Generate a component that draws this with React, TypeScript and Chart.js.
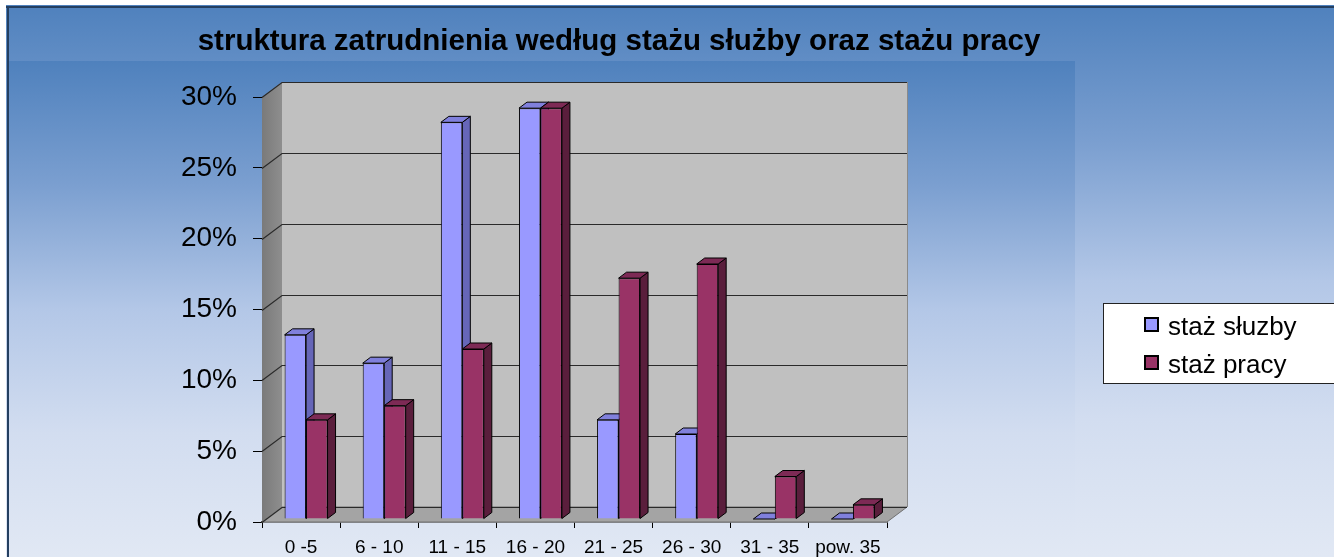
import React, { useEffect, useRef } from "react";
import { Chart, registerables } from "chart.js";

Chart.register(...registerables);

// ---------- data ----------
const categories = ["0 -5", "6 - 10", "11 - 15", "16 - 20", "21 - 25", "26 - 30", "31 - 35", "pow. 35"];
const stazSluzby = [13, 11, 28, 29, 7, 6, 0, 0];
const stazPracy = [7, 8, 12, 29, 17, 18, 3, 1];
const seriesLabels = ["staż słuzby", "staż pracy"];
const yTickValues = [0, 5, 10, 15, 20, 25, 30];
const titleText = "struktura zatrudnienia według stażu służby oraz stażu pracy";

// ---------- geometry / style ----------
const W = 1328;
const H = 552;
const FONT = '"Liberation Sans", Arial, sans-serif';
const DX = 20; // wall depth
const DY = -15;
const BDX = 8; // bar depth
const BDY = -6;
const SHIFT_X = 5;
const SHIFT_Y = -3;

const FRONT = ["#9999ff", "#993366"];
const TOP = ["#8080dc", "#7d2a55"];
const SIDE = ["#6666b8", "#5a1e3c"];

function vGrad(ctx: CanvasRenderingContext2D, y0: number, y1: number, stops: [number, string][]) {
  const g = ctx.createLinearGradient(0, y0, 0, y1);
  stops.forEach(([o, c]) => g.addColorStop(o, c));
  return g;
}

const BG_STOPS: [number, string][] = [
  [0, "#4f81bd"],
  [0.25, "#7b9fd0"],
  [0.5, "#b3c7e7"],
  [0.75, "#d2ddf0"],
  [1, "#e1e8f4"],
];

const scenePlugin = {
  id: "scene",
  beforeDraw(chart: any) {
    const ctx: CanvasRenderingContext2D = chart.ctx;
    ctx.save();
    ctx.fillStyle = vGrad(ctx, 0, H, BG_STOPS);
    ctx.fillRect(0, 0, W, H);
    // plot-area panel
    ctx.fillStyle = vGrad(ctx, 56, H, BG_STOPS);
    ctx.fillRect(2, 56, 1067, H - 56);
    // frame
    ctx.fillStyle = "#243f60";
    ctx.fillRect(0, 1, W, 2);
    ctx.fillRect(1, 1, 2, H);
    ctx.restore();
  },
  beforeDatasetsDraw(chart: any) {
    const ctx: CanvasRenderingContext2D = chart.ctx;
    const a = chart.chartArea;
    const ys = chart.scales.y;
    const top = ys.getPixelForValue(30);
    const bottom = ys.getPixelForValue(0);
    const left = a.left;
    const right = a.right;

    ctx.save();
    // back wall
    ctx.fillStyle = "#c0c0c0";
    ctx.fillRect(left + DX, top + DY, right - left, bottom - top);
    ctx.strokeStyle = "#8a8a8a";
    ctx.lineWidth = 1;
    ctx.beginPath();
    ctx.moveTo(right + DX + 0.5, top + DY);
    ctx.lineTo(right + DX + 0.5, bottom + DY);
    ctx.stroke();
    // left wall
    const lg = ctx.createLinearGradient(left, 0, left + DX, 0);
    lg.addColorStop(0, "#7a7a7a");
    lg.addColorStop(1, "#8e8e8e");
    ctx.fillStyle = lg;
    ctx.beginPath();
    ctx.moveTo(left, top);
    ctx.lineTo(left + DX, top + DY);
    ctx.lineTo(left + DX, bottom + DY);
    ctx.lineTo(left, bottom);
    ctx.closePath();
    ctx.fill();
    // floor
    ctx.fillStyle = "#a4a4a4";
    ctx.beginPath();
    ctx.moveTo(left, bottom);
    ctx.lineTo(right, bottom);
    ctx.lineTo(right + DX, bottom + DY);
    ctx.lineTo(left + DX, bottom + DY);
    ctx.closePath();
    ctx.fill();
    ctx.strokeStyle = "#707070";
    ctx.stroke();

    // gridlines on walls
    ctx.strokeStyle = "#2a2a2a";
    ctx.lineWidth = 1.2;
    yTickValues.forEach((v) => {
      const y = Math.round(ys.getPixelForValue(v)) + 0.5;
      ctx.beginPath();
      ctx.moveTo(left, y);
      ctx.lineTo(left + DX, y + DY);
      ctx.lineTo(right + DX, y + DY);
      ctx.stroke();
    });
    ctx.restore();

    // bar depth faces (drawn before the fronts)
    ctx.save();
    ctx.translate(SHIFT_X, SHIFT_Y);
    ctx.lineWidth = 1;
    ctx.strokeStyle = "#000";
    ctx.lineJoin = "round";
    chart.data.datasets.forEach((_ds: any, di: number) => {
      const meta = chart.getDatasetMeta(di);
      meta.data.forEach((bar: any) => {
        const p = bar.getProps(["x", "y", "base", "width"], true);
        const l = p.x - p.width / 2;
        const r = p.x + p.width / 2;
        // side
        ctx.fillStyle = SIDE[di];
        ctx.beginPath();
        ctx.moveTo(r, p.y);
        ctx.lineTo(r + BDX, p.y + BDY);
        ctx.lineTo(r + BDX, p.base + BDY);
        ctx.lineTo(r, p.base);
        ctx.closePath();
        ctx.fill();
        ctx.stroke();
        // top
        ctx.fillStyle = TOP[di];
        ctx.beginPath();
        ctx.moveTo(l, p.y);
        ctx.lineTo(r, p.y);
        ctx.lineTo(r + BDX, p.y + BDY);
        ctx.lineTo(l + BDX, p.y + BDY);
        ctx.closePath();
        ctx.fill();
        ctx.stroke();
      });
    });
    // translation kept for the bar fronts; restored in afterDatasetsDraw
  },
  afterDatasetsDraw(chart: any) {
    chart.ctx.restore();
  },
  afterDraw(chart: any) {
    const ctx: CanvasRenderingContext2D = chart.ctx;
    ctx.save();
    // title
    ctx.fillStyle = "#000";
    ctx.font = `bold 29.5px ${FONT}`;
    ctx.textAlign = "center";
    ctx.textBaseline = "alphabetic";
    ctx.fillText(titleText, 613, 45);

    // legend
    ctx.fillStyle = "#fff";
    ctx.fillRect(1097, 298, 240, 80);
    ctx.strokeStyle = "#222";
    ctx.lineWidth = 1;
    ctx.strokeRect(1097.5, 298.5, 240, 80);
    const rows = [330, 368];
    ctx.font = `26px ${FONT}`;
    ctx.textAlign = "left";
    chart.data.datasets.forEach((ds: any, i: number) => {
      const by = rows[i] - 17;
      ctx.fillStyle = ds.backgroundColor;
      ctx.fillRect(1139, by, 13, 13);
      ctx.strokeStyle = "#000";
      ctx.lineWidth = 2;
      ctx.strokeRect(1139, by, 13, 13);
      ctx.fillStyle = "#000";
      ctx.fillText(ds.label, 1162, rows[i]);
    });
    ctx.restore();
  },
};

export default function App() {
  const ref = useRef<HTMLCanvasElement | null>(null);
  useEffect(() => {
    if (!ref.current) return;
    document.body.style.overflow = "hidden";
    const chart = new Chart(ref.current, {
      type: "bar",
      data: {
        labels: categories,
        datasets: [
          {
            label: seriesLabels[0],
            data: stazSluzby,
            backgroundColor: FRONT[0],
            borderColor: "#000",
            borderWidth: 1,
            categoryPercentage: 0.55,
            barPercentage: 1,
          },
          {
            label: seriesLabels[1],
            data: stazPracy,
            backgroundColor: FRONT[1],
            borderColor: "#000",
            borderWidth: 1,
            categoryPercentage: 0.55,
            barPercentage: 1,
          },
        ],
      },
      options: {
        responsive: false,
        animation: false,
        events: [],
        layout: { padding: { top: 92, right: W - 881, left: 0, bottom: 0 } },
        plugins: {
          legend: { display: false },
          title: { display: false },
          tooltip: { enabled: false },
        },
        scales: {
          x: {
            offset: true,
            grid: {
              offset: true,
              drawOnChartArea: false,
              drawTicks: true,
              tickLength: 6,
              color: "#000",
            },
            border: { display: true, color: "#4a4a4a", width: 1.5 },
            ticks: {
              color: "#000",
              font: { family: FONT, size: 19 },
              padding: 8,
              maxRotation: 0,
              autoSkip: false,
            },
            afterFit: (s: any) => {
              s.height = 35;
            },
          },
          y: {
            min: 0,
            max: 30,
            grid: {
              drawOnChartArea: false,
              drawTicks: true,
              tickLength: 9,
              color: "#000",
            },
            border: { display: false },
            ticks: {
              stepSize: 5,
              color: "#000",
              font: { family: FONT, size: 28 },
              padding: 16,
              callback: (v: any) => `${v}%`,
            },
            afterFit: (s: any) => {
              s.width = 256;
            },
          },
        },
      },
      plugins: [scenePlugin],
    });
    return () => chart.destroy();
  }, []);
  return (
    <div style={{ position: "absolute", left: 6, top: 5, width: W, height: H, overflow: "hidden" }}>
      <canvas ref={ref} width={W} height={H} style={{ display: "block" }} />
    </div>
  );
}
